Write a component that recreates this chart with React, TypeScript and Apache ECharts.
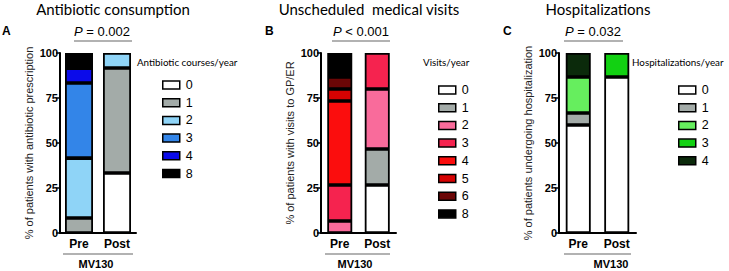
import React, { useEffect, useRef } from "react";
import * as echarts from "echarts";

const groups = ["Pre", "Post"];
const yTicks = [0, 25, 50, 75, 100];

const abxLevels = ["0", "1", "2", "3", "4", "8"];
const abxPre = [0, 8.3, 33.3, 41.7, 8.3, 8.4];
const abxPost = [33.3, 58.4, 8.3, 0, 0, 0];
const abxColors = ["#ffffff", "#a3aba8", "#8fd4f7", "#3385e8", "#0b0bea", "#000000"];

const visitLevels = ["0", "1", "2", "3", "4", "5", "6", "8"];
const visitPre = [0, 0, 6.7, 20, 46.6, 6.7, 6.7, 13.3];
const visitPost = [26.7, 20, 33.3, 20, 0, 0, 0, 0];
const visitColors = ["#ffffff", "#a3aba8", "#f96b9b", "#f5234f", "#fb0d0d", "#d60202", "#6b0606", "#000000"];

const hospLevels = ["0", "1", "2", "3", "4"];
const hospPre = [60, 6.7, 20, 0, 13.3];
const hospPost = [86.7, 0, 0, 13.3, 0];
const hospColors = ["#ffffff", "#a3aba8", "#66ee5e", "#12d112", "#0b2a0b"];

const panels = [
  {
    key: "A", title: "Antibiotic consumption", pText: "= 0.002",
    yName: "% of patients with antibiotic prescription",
    legendTitle: "Antibiotic courses/year",
    levels: abxLevels, pre: abxPre, post: abxPost, colors: abxColors,
    left: 60, width: 76, barWidth: 28,
    titleX: 113, letterX: 2, pX: 102, pLine: [74, 132],
    legendTitleX: 137, legendX: 157, legendTop: 73,
    groupLine: [63, 133], groupX: 96,
  },
  {
    key: "B", title: "Unscheduled  medical visits", pText: "< 0.001",
    yName: "% of patients with visits to GP/ER",
    legendTitle: "Visits/year",
    levels: visitLevels, pre: visitPre, post: visitPost, colors: visitColors,
    left: 321, width: 75, barWidth: 25,
    titleX: 369, letterX: 265, pX: 361, pLine: [332, 390],
    legendTitleX: 423, legendX: 433, legendTop: 78,
    groupLine: [325, 390], groupX: 355,
  },
  {
    key: "C", title: "Hospitalizations", pText: "= 0.032",
    yName: "% of patients undergoing hospitalization",
    legendTitle: "Hospitalizations/year",
    levels: hospLevels, pre: hospPre, post: hospPost, colors: hospColors,
    left: 559, width: 77, barWidth: 25,
    titleX: 598, letterX: 503, pX: 593, pLine: [564, 623],
    legendTitleX: 632, legendX: 673, legendTop: 78,
    groupLine: [564, 631], groupX: 611,
  },
];

const TOP = 53;
const HEIGHT = 180;

export default function App() {
  const ref = useRef<HTMLDivElement>(null);
  useEffect(() => {
    document.body.style.margin = "0";
    if (!ref.current) return;
    const chart = echarts.init(ref.current, null, { renderer: "svg" });

    const grid: any[] = [];
    const xAxis: any[] = [];
    const yAxis: any[] = [];
    const series: any[] = [];
    const legend: any[] = [];
    const graphic: any[] = [];

    panels.forEach((p, i) => {
      grid.push({ left: p.left, width: p.width, top: TOP, height: HEIGHT });
      xAxis.push({
        type: "category", gridIndex: i, data: groups,
        axisLine: { lineStyle: { color: "#000", width: 2 } },
        axisTick: { alignWithLabel: true, length: 5, lineStyle: { color: "#000", width: 1.5 } },
        axisLabel: { color: "#000", fontWeight: "bold", fontSize: 12, margin: 5, fontFamily: "Liberation Sans" },
      });
      yAxis.push({
        type: "value", gridIndex: i, min: yTicks[0], max: yTicks[yTicks.length - 1], interval: 25,
        name: p.yName, nameLocation: "middle", nameGap: 26,
        nameTextStyle: { color: "#222", fontSize: 11, fontFamily: "Liberation Sans" },
        axisLine: { show: true, lineStyle: { color: "#000", width: 2 } },
        axisTick: { show: true, length: 4, lineStyle: { color: "#000", width: 1.5 } },
        splitLine: { show: false },
        axisLabel: { color: "#000", fontWeight: "bold", fontSize: 11, margin: 2, fontFamily: "Liberation Sans" },
      });
      p.levels.forEach((lv, j) => {
        series.push({
          type: "bar", name: p.key + lv, stack: p.key,
          xAxisIndex: i, yAxisIndex: i, barWidth: p.barWidth,
          data: [p.pre[j] || null, p.post[j] || null],
          itemStyle: { color: p.colors[j], borderColor: "#000", borderWidth: 1.8 },
        });
      });
      legend.push({
        data: p.levels.map((lv) => p.key + lv),
        formatter: (n: string) => n.slice(1),
        orient: "vertical", left: p.legendX, top: p.legendTop,
        icon: "rect", itemWidth: 17, itemHeight: 8, itemGap: 3.7,
        selectedMode: false,
        itemStyle: { borderColor: "#000", borderWidth: 1.5 },
        textStyle: { color: "#000", fontSize: 12.5, lineHeight: 14, fontFamily: "Liberation Sans", padding: [0, 0, 0, 1] },
      });
      graphic.push(
        { type: "text", x: p.titleX, y: 9, style: { text: p.title, fill: "#000", font: "15px Lato", align: "center", verticalAlign: "middle" } },
        { type: "text", x: p.letterX, y: 31, style: { text: p.key, fill: "#000", font: "bold 12px 'Liberation Sans'", align: "left", verticalAlign: "middle" } },
        {
          type: "text", x: p.pX, y: 31,
          style: {
            text: "{i|P} " + p.pText, fill: "#000", font: "13px 'Liberation Sans'", align: "center", verticalAlign: "middle",
            rich: { i: { fontStyle: "italic", fontSize: 13, fontFamily: "Liberation Sans" } },
          },
        },
        { type: "line", shape: { x1: p.pLine[0], y1: 41, x2: p.pLine[1], y2: 41 }, style: { stroke: "#666", lineWidth: 1.2 } },
        { type: "text", x: p.legendTitleX, y: 62, style: { text: p.legendTitle, fill: "#000", font: "9.8px Lato", align: "left", verticalAlign: "middle" } },
        { type: "line", shape: { x1: p.groupLine[0], y1: 254, x2: p.groupLine[1], y2: 254 }, style: { stroke: "#666", lineWidth: 1.2 } },
        { type: "text", x: p.groupX, y: 264, style: { text: "MV130", fill: "#000", font: "bold 11px 'Liberation Sans'", align: "center", verticalAlign: "middle" } },
      );
    });

    chart.setOption({
      animation: false,
      backgroundColor: "#fff",
      grid, xAxis, yAxis, series, legend, graphic,
    });
    return () => chart.dispose();
  }, []);
  return <div ref={ref} style={{ width: 729, height: 271 }} />;
}
